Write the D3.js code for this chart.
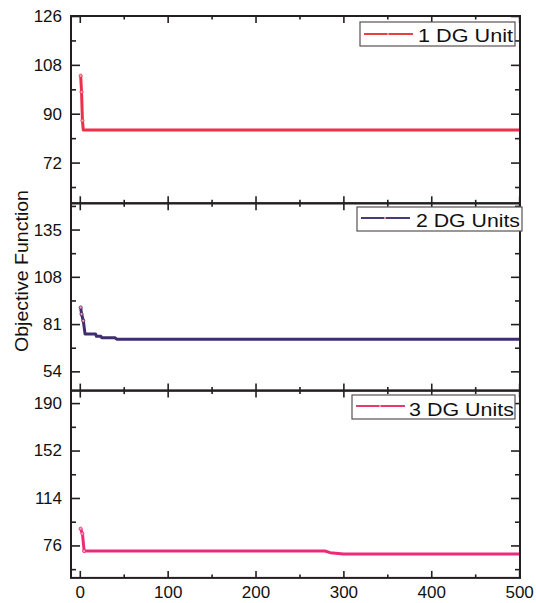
<!DOCTYPE html>
<html>
<head>
<meta charset="utf-8">
<script src="https://cdn.jsdelivr.net/npm/d3@7"></script>
<style>
  body { margin: 0; background: #fff; }
  svg text { font-family: "Liberation Sans", Arial, sans-serif; fill: #111; }
</style>
</head>
<body>
<svg id="main" width="536" height="603"></svg>
<script>
// values: [iteration, objective]
var unit1 = [[1, 104], [2, 98], [3, 87.5], [4, 84], [500, 84]];
var unit2 = [[1, 90.5], [2, 86.7], [4, 82.9], [6, 75.3], [18, 75.3], [19, 74], [24, 74], [25, 73.2], [40, 73.2], [42, 72.4], [500, 72.4]];
var unit3 = [[1, 89.4], [3, 85.4], [5, 71.5], [279, 71.5], [285, 70.2], [300, 69.2], [500, 69.2]];

var xMajor = [0, 100, 200, 300, 400, 500];
var xMinor = [50, 150, 250, 350, 450];

var panels = [
    {name: "1 DG Unit", data: unit1, domain: [57, 126], major: [72, 90, 108, 126], minor: [63, 81, 99, 117],
     color: "#ec2f4b", legendColor: "#e8413a",
     box: [360, 22, 155, 24], lineY: 34, textX: 418, textW: 95, textY: 41.5},
    {name: "2 DG Units", data: unit2, domain: [43, 150], major: [54, 81, 108, 135], minor: [67.5, 94.5, 121.5, 148.5],
     color: "#3f2d6e", legendColor: "#4a3a7a",
     box: [357, 207, 165, 24], lineY: 218, textX: 416, textW: 104, textY: 227},
    {name: "3 DG Units", data: unit3, domain: [50, 200], major: [76, 114, 152, 190], minor: [57, 95, 133, 171],
     color: "#ec2a7a", legendColor: "#e83a6a",
     box: [352, 395, 163, 24], lineY: 406, textX: 409, textW: 105, textY: 415.5}
];

var svg = d3.select("svg#main");
var plotLeft = 71, plotRight = 520, plotTop = 16, panelH = 187.3;
var ink = "#231f20";

var x = d3.scaleLinear().domain([-10, 501]).range([plotLeft, plotRight]);

panels.forEach(function(p, i) {
    var y0 = plotTop + i * panelH, y1 = y0 + panelH;
    var y = d3.scaleLinear().domain(p.domain).range([y1, y0]);
    var g = svg.append("g");

    var line = d3.line().x(d => x(d[0])).y(d => y(d[1]));
    g.append("path").datum(p.data)
        .attr("d", line)
        .attr("fill", "none")
        .attr("stroke", p.color)
        .attr("stroke-width", 3)
        .attr("stroke-linejoin", "round");

    // small markers on the first iterations
    g.selectAll("circle").data(p.data.slice(0, 3))
        .join("circle")
        .attr("cx", d => x(d[0])).attr("cy", d => y(d[1]))
        .attr("r", 1.6)
        .attr("fill", "#f6a0b6")
        .attr("stroke", p.color).attr("stroke-width", 0.8);

    // inward ticks on all four sides
    var axes = [
        [d3.axisLeft(y).tickValues(p.major).tickSize(-9).tickPadding(9), "translate(" + plotLeft + ",0)"],
        [d3.axisLeft(y).tickValues(p.minor).tickSize(-5).tickFormat(""), "translate(" + plotLeft + ",0)"],
        [d3.axisRight(y).tickValues(p.major).tickSize(-9).tickFormat(""), "translate(" + plotRight + ",0)"],
        [d3.axisRight(y).tickValues(p.minor).tickSize(-5).tickFormat(""), "translate(" + plotRight + ",0)"],
        [d3.axisBottom(x).tickValues(xMajor).tickSize(-7).tickPadding(8).tickFormat(i == 2 ? d3.format("d") : ""), "translate(0," + y1 + ")"],
        [d3.axisBottom(x).tickValues(xMinor).tickSize(-3.5).tickFormat(""), "translate(0," + y1 + ")"],
        [d3.axisTop(x).tickValues(xMajor).tickSize(-7).tickFormat(""), "translate(0," + y0 + ")"],
        [d3.axisTop(x).tickValues(xMinor).tickSize(-3.5).tickFormat(""), "translate(0," + y0 + ")"]
    ];
    axes.forEach(function(a) {
        var ag = g.append("g").attr("transform", a[1]).call(a[0].tickSizeOuter(0));
        ag.select(".domain").remove();
        ag.selectAll("line").attr("stroke", ink).attr("stroke-width", 1.6);
        ag.selectAll("text").attr("font-size", 17).attr("fill", "#111")
            .attr("font-family", "'Liberation Sans', Arial, sans-serif");
    });

    g.append("rect")
        .attr("x", plotLeft).attr("y", y0)
        .attr("width", plotRight - plotLeft).attr("height", panelH)
        .attr("fill", "none").attr("stroke", ink).attr("stroke-width", 2);

    // legend
    var b = p.box;
    g.append("rect")
        .attr("x", b[0]).attr("y", b[1]).attr("width", b[2]).attr("height", b[3])
        .attr("fill", "#fff").attr("stroke", "#5a5050").attr("stroke-width", 1.2);
    g.append("line")
        .attr("x1", b[0] + 4).attr("x2", b[0] + 53)
        .attr("y1", p.lineY).attr("y2", p.lineY)
        .attr("stroke", p.legendColor).attr("stroke-width", 2.2);
    g.append("circle")
        .attr("cx", b[0] + 28).attr("cy", p.lineY).attr("r", 1.1)
        .attr("fill", "#f6a0b6");
    g.append("text")
        .attr("x", p.textX).attr("y", p.textY)
        .attr("font-size", 18)
        .attr("textLength", p.textW).attr("lengthAdjust", "spacingAndGlyphs")
        .text(p.name);
});

svg.append("text")
    .attr("transform", "translate(28,271) rotate(-90)")
    .attr("text-anchor", "middle")
    .attr("font-size", 18)
    .attr("textLength", 162).attr("lengthAdjust", "spacingAndGlyphs")
    .text("Objective Function");
</script>
</body>
</html>
